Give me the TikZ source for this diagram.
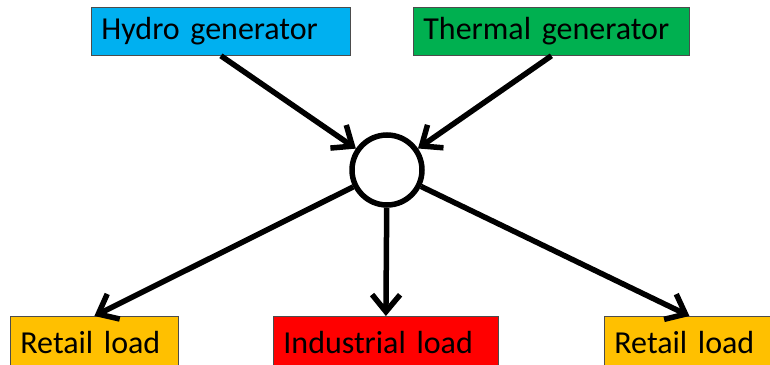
\documentclass[tikz,border=0pt]{standalone}
\usepackage{fontspec}
\setmainfont{Carlito}
\usetikzlibrary{arrows.meta,positioning}
\definecolor{hydroblue}{RGB}{0,176,240}
\definecolor{thermgreen}{RGB}{0,176,80}
\definecolor{retailorange}{RGB}{255,192,0}
\definecolor{indred}{RGB}{255,0,0}
\tikzset{
  box/.style={rectangle,draw=black!70,line width=0.8pt,text=black,align=left,
              anchor=north west,inner xsep=10pt,inner ysep=0pt,minimum height=48pt,
              font=\fontsize{32}{36}\selectfont},
  genbox/.style={box},
  loadbox/.style={box,fill=retailorange,minimum height=52pt},
  bus/.style={circle,draw=black,fill=white,line width=5.5pt,minimum size=70pt,inner sep=0pt},
  fl/.style={-{Straight Barb[length=17pt,width=28pt]},draw=black,line width=5.5pt},
}
\begin{document}
\begin{tikzpicture}[x=1pt,y=-1pt]
  \clip (0,0) rectangle (770,364);
  \node[genbox,fill=hydroblue,text width=239pt] (hydro) at (91,7) {Hydro generator};
  \node[genbox,fill=thermgreen,text width=256pt] (thermal) at (413,7) {Thermal generator};
  \node[bus] (hub) at (387,170) {};
  \node[loadbox,text width=148pt] (retailL) at (10,316) {Retail load};
  \node[loadbox,fill=indred,text width=205pt] (indload) at (273,316) {Industrial load};
  \node[loadbox,text width=150pt] (retailR) at (604,316) {Retail load};
  \draw[fl] (hydro.south) -- (hub);
  \draw[fl] (thermal.south) -- (hub);
  \draw[fl] (hub) -- (retailL.north);
  \draw[fl] (hub) -- (indload.north);
  \draw[fl] (hub) -- (retailR.north);
\end{tikzpicture}
\end{document}
